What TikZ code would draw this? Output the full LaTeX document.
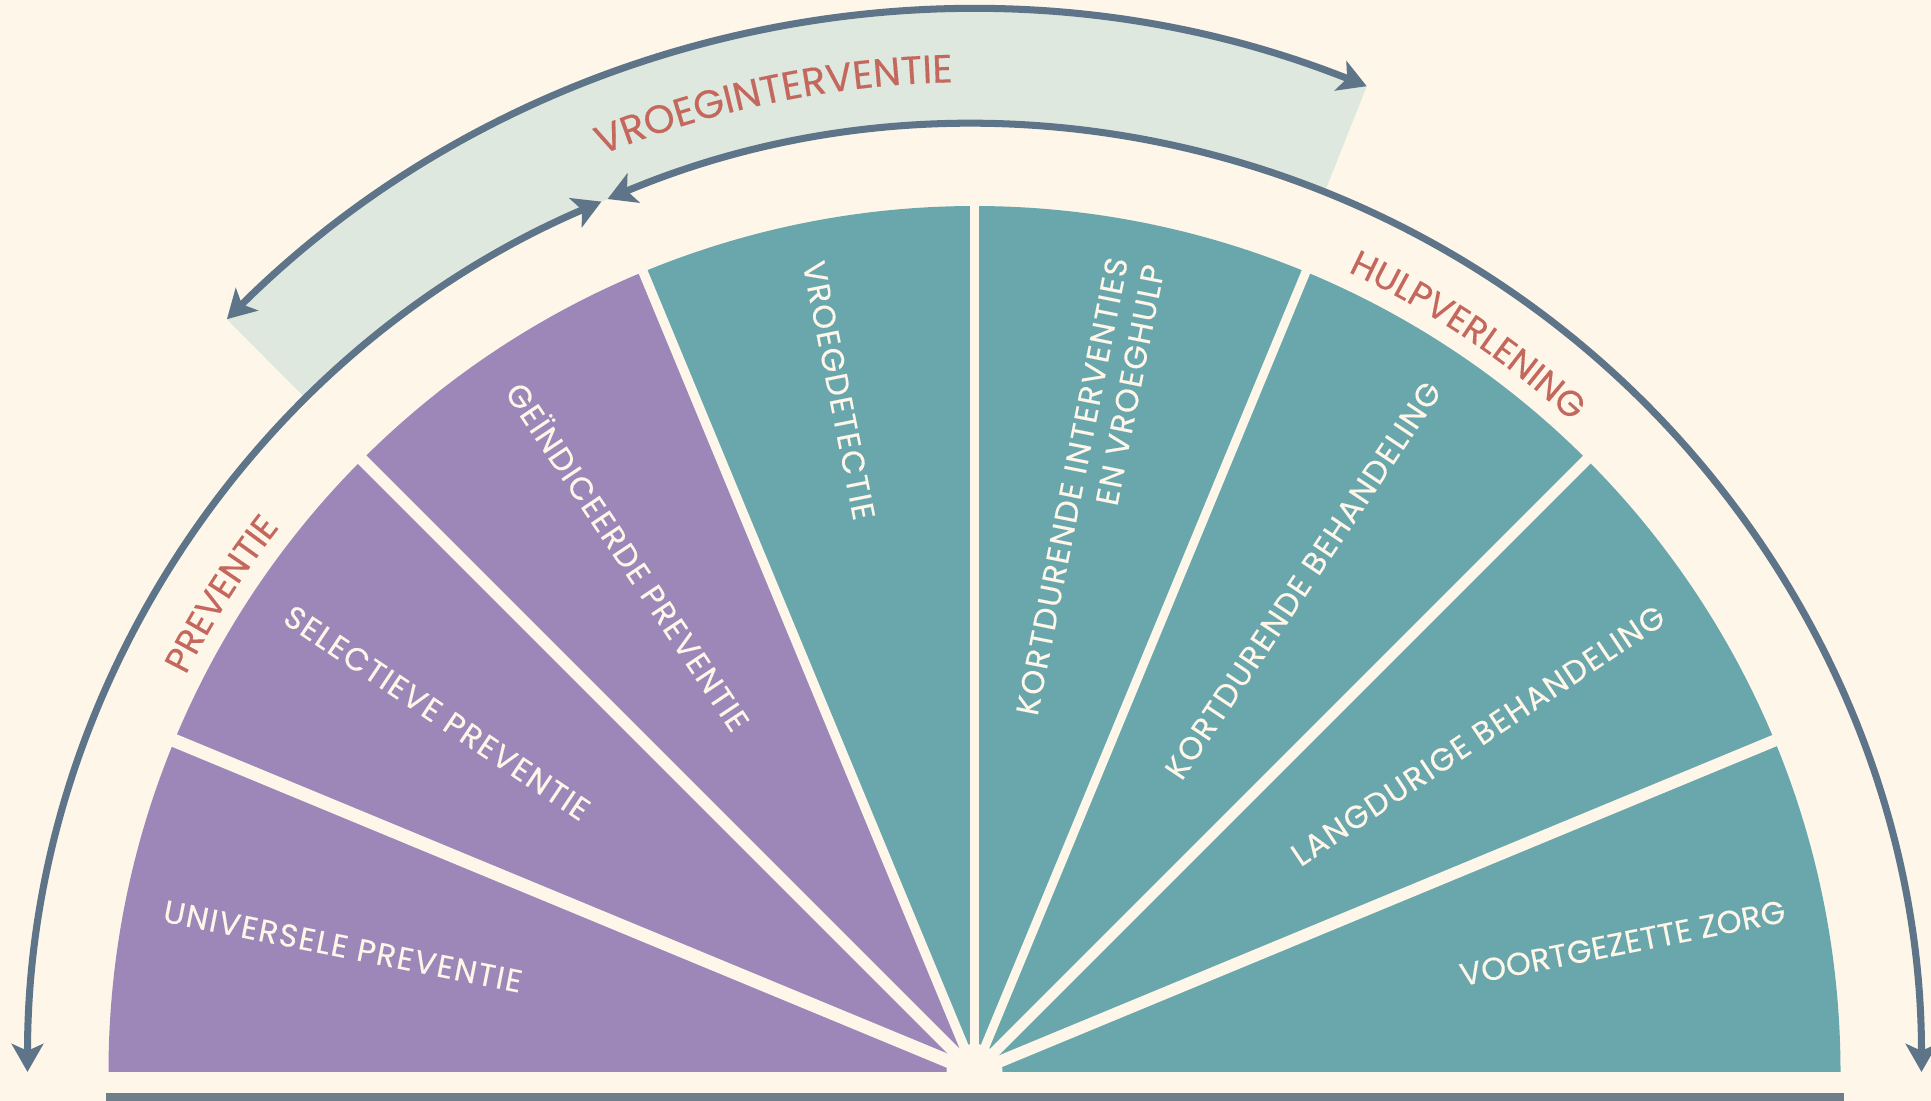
\documentclass[tikz,border=0pt]{standalone}
\usepackage{fontspec}
\setmainfont{Poppins}
\newfontfamily\wfont{Poppins}[LetterSpace=5, FakeBold=0.35]
\newfontfamily\wfontn{Poppins}[LetterSpace=1, FakeBold=0.35]
\usetikzlibrary{arrows.meta,decorations.text}
\definecolor{bg}{HTML}{FDF6E9}
\definecolor{purp}{HTML}{9D87B9}
\definecolor{tealc}{HTML}{69A7AC}
\definecolor{slate}{HTML}{5D7489}
\definecolor{bandc}{HTML}{DFE8DF}
\definecolor{labelred}{HTML}{C4675C}
\definecolor{basebar}{HTML}{6E7E8A}
\begin{document}
\begin{tikzpicture}[x=1cm,y=1cm,
  sepline/.style={draw=bg, line width=#1},
  arcarrow/.style={draw=slate, line width=2pt,
    {Stealth[length=8pt,width=9pt,inset=2pt]}-{Stealth[length=8pt,width=9pt,inset=2pt]}},
  wtext/.style={text=bg, font=\wfont\fontsize{9}{10.6}\selectfont, inner sep=0pt},
  curvelabel/.style={decorate, decoration={text along path, text={#1},
    text align=center, text color=labelred}},
]
\useasboundingbox (0,0) rectangle (19.31,11.01);
\fill[bg] (0,0) rectangle (19.31,11.01);
\coordinate (O) at (9.745,0.29);
\begin{scope}[shift={(O)}]
  % band of vroeginterventie
  \fill[bandc] (134.8:9.47) arc[start angle=134.8,end angle=68.3,radius=9.47]
     -- (68.3:10.61) arc[start angle=68.3,end angle=134.8,radius=10.61] -- cycle;
  % wedges
  \fill[purp] (0,0) -- (180:8.66) arc[start angle=180,end angle=112.5,radius=8.66] -- cycle;
  \fill[tealc] (0,0) -- (112.5:8.66) arc[start angle=112.5,end angle=0,radius=8.66] -- cycle;
  \foreach \a/\w in {157.5/3.8pt,135/3.4pt,112.5/2.7pt,90/2.55pt,67.5/2.55pt,45/3.1pt,22.5/3.4pt}
    \draw[sepline=\w] (0,0) -- (\a:8.9);
  \fill[bg] (0,0) circle (0.28);
  % arcs with arrows
  \draw[arcarrow] (180:9.47) arc[start angle=180,end angle=113.2,radius=9.47];
  \draw[arcarrow] (112.8:9.47) arc[start angle=112.8,end angle=0,radius=9.47];
  \draw[arcarrow] (134.8:10.61) arc[start angle=134.8,end angle=68.3,radius=10.61];
  % curved labels
  \path[curvelabel={|\wfont\fontsize{10.2}{11}\selectfont|PREVENTIE}]
    (167.6:8.83) arc[start angle=167.6,end angle=127.6,radius=8.83];
  \path[curvelabel={|\wfont\fontsize{10.2}{11}\selectfont|HULPVERLENING}]
    (76.2:8.83) arc[start angle=76.2,end angle=36.2,radius=8.83];
  \path[curvelabel={|\wfont\fontsize{11.2}{12}\selectfont|VROEGINTERVENTIE}]
    (121.7:9.90) arc[start angle=121.7,end angle=81.7,radius=9.90];
  % wedge texts
  \node[wtext, anchor=west, rotate=-11.25] (univ) at (168.75:8.27) {UNIVERSELE PREVENTIE};
  \node[wtext, anchor=west, rotate=-33.75] (sel) at (146.25:8.27) {SELECTIEVE PREVENTIE};
  \node[wtext, anchor=west, rotate=-56.25] (gei) at (123.75:8.27) {GEÏNDICEERDE PREVENTIE};
  \node[wtext, anchor=west, rotate=-78.75] (vroeg) at (101.25:8.27) {VROEGDETECTIE};
  \node[wtext, anchor=east, rotate=78.75, align=right] (kortint) at (78.75:8.27) {KORTDURENDE INTERVENTIES\\EN VROEGHULP};
  \node[wtext, anchor=east, rotate=56.25] (kortbeh) at (56.25:8.27) {KORTDURENDE BEHANDELING};
  \node[wtext, anchor=east, rotate=33.75] (langbeh) at (33.75:8.27) {LANGDURIGE BEHANDELING};
  \node[wtext, anchor=east, rotate=11.25, font=\wfontn\fontsize{9}{10.6}\selectfont] (voort) at (11.25:8.27) {VOORTGEZETTE ZORG};
\end{scope}
\fill[basebar] (1.06,0) rectangle (18.44,0.08);
\end{tikzpicture}
\end{document}
